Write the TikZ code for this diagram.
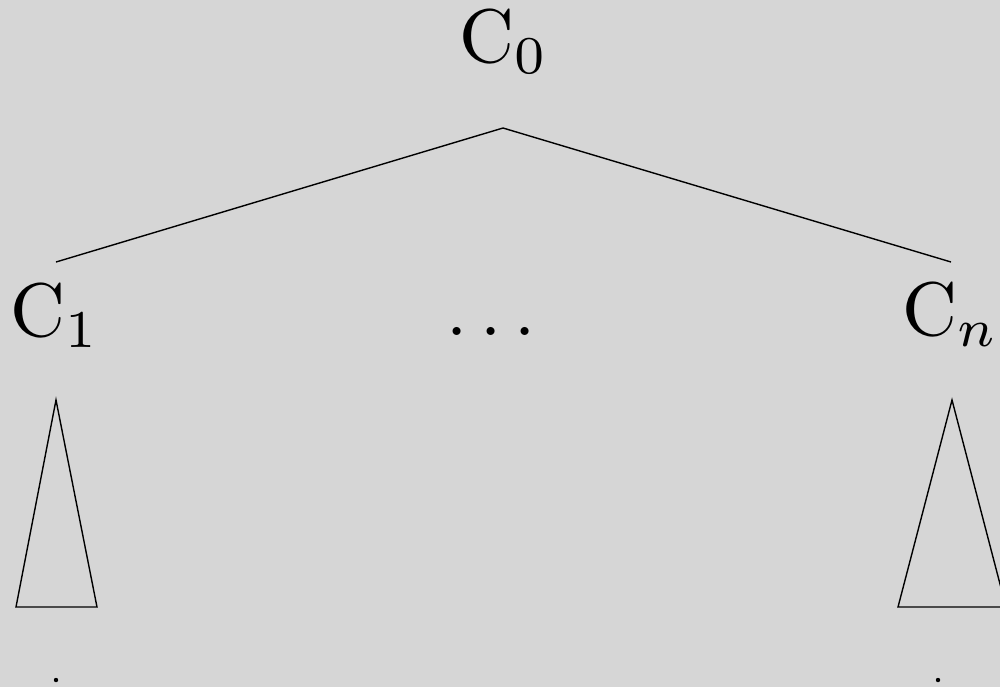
\documentclass[tikz,border=0pt]{standalone}
\definecolor{bg}{RGB}{214,214,214}
\begin{document}
\begin{tikzpicture}[x=0.5pt,y=-0.5pt,
  lbl/.style={anchor=base,inner sep=0pt,scale=3.8},
  edge/.style={line width=0.7pt,black},
  tri/.style={line width=0.7pt,black,line join=miter},
  pt/.style={circle,fill=black,inner sep=0pt,minimum size=2.2pt}]
\fill[bg] (0,0) rectangle (1000,687);
\useasboundingbox (0,0) rectangle (1000,687);
\node[lbl] (c0) at (504,62) {$\mathrm{C}_0$};
\node[lbl] (c1) at (55,336) {$\mathrm{C}_1$};
\node[lbl] (mid) at (491,335) {$\ldots$};
\node[lbl] (cn) at (951,335) {$\mathrm{C}_n$};
\coordinate (top) at (503,128);
\coordinate (l1) at (56,262);
\coordinate (r1) at (951,262);
\draw[edge] (l1) -- (top) -- (r1);
\coordinate (la) at (56,400);
\coordinate (lb1) at (16,607);
\coordinate (lb2) at (97,607);
\draw[tri] (la) -- (lb2) -- (lb1) -- cycle;
\coordinate (ra) at (952,400);
\coordinate (rb1) at (898,607);
\coordinate (rb2) at (1006,607);
\draw[tri] (ra) -- (rb2) -- (rb1) -- cycle;
\node[pt] (ld) at (56,680) {};
\node[pt] (rd) at (938,680) {};
\end{tikzpicture}
\end{document}
